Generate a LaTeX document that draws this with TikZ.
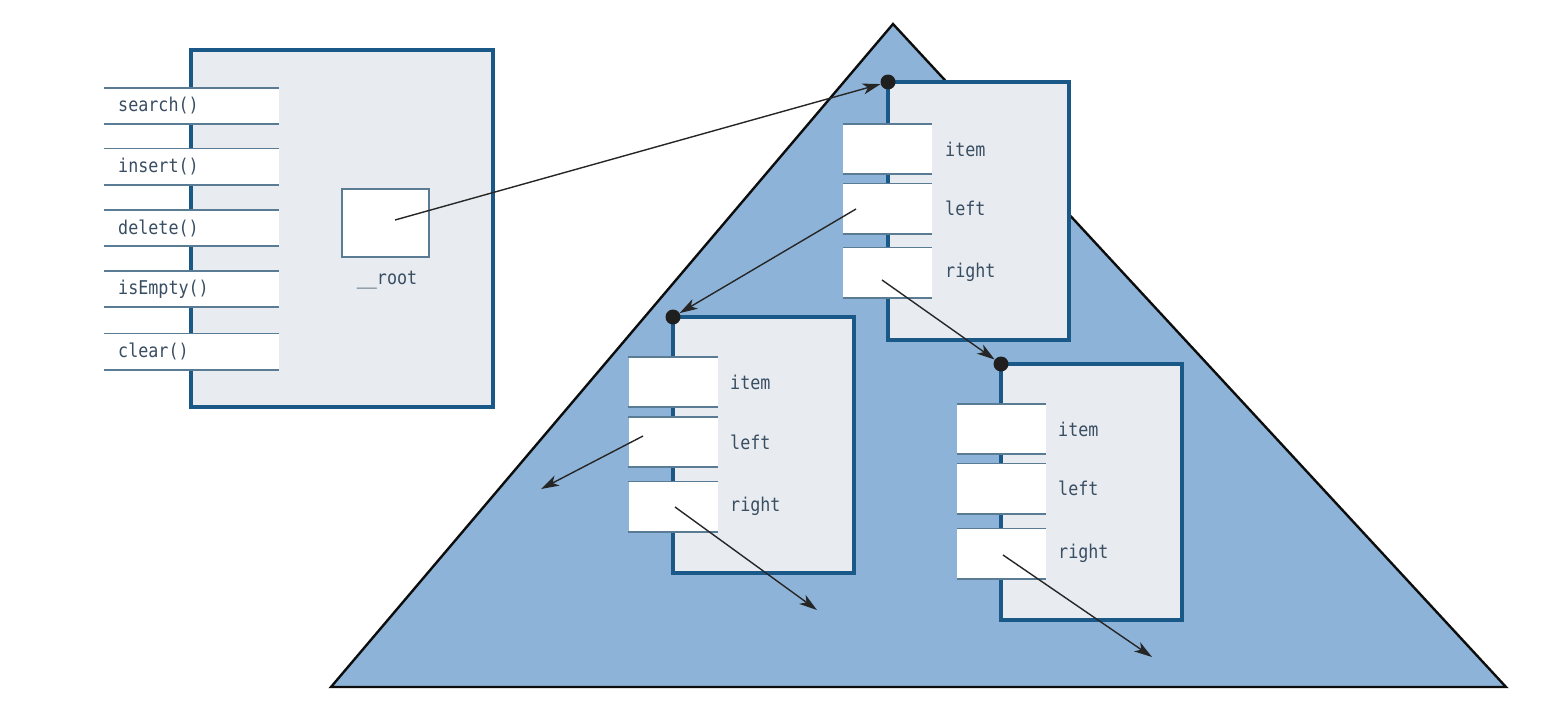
\documentclass[tikz,border=0pt]{standalone}
\usepackage{fontspec}
\setmonofont[FakeStretch=0.88]{DejaVu Sans Mono}
\usetikzlibrary{arrows.meta}
\definecolor{boxedge}{HTML}{1A5987}
\definecolor{boxfill}{HTML}{E8ECF1}
\definecolor{trifill}{HTML}{8DB4D8}
\definecolor{txt}{HTML}{3A4E62}
\definecolor{fline}{HTML}{5A7B94}
\tikzset{
  objbox/.style={draw=boxedge, line width=3.2pt, fill=boxfill, inner sep=0pt},
  fieldbox/.style={fill=white, inner sep=0pt, minimum width=89pt, minimum height=50pt},
  methodbox/.style={fill=white, inner sep=0pt, minimum width=175pt, minimum height=36pt},
  fline/.style={draw=fline, line width=1.6pt},
  lbl/.style={text=txt, font=\ttfamily\fontsize{19}{22}\selectfont, inner sep=0pt, anchor=west},
  rootlbl/.style={text=txt, font=\ttfamily\fontsize{19}{22}\selectfont, inner sep=0pt},
  dot/.style={circle, fill=black!88, inner sep=0pt, minimum size=15pt},
  ptr/.style={draw=black!85, line width=1.4pt, -{Stealth[length=18pt,width=11pt,inset=5pt]}},
  tri/.style={draw=black!95, line width=2.4pt, fill=trifill, line join=miter}
}
\begin{document}
\begin{tikzpicture}[x=1pt,y=-1pt]
\useasboundingbox (0,0) rectangle (1554,709);
\fill[white] (0,0) rectangle (1554,709);
% tree triangle
\draw[tri] (893,24) -- (1506,687) -- (331,687) -- cycle;

% BST object
\node[objbox, minimum width=302pt, minimum height=357pt] (bst) at (342,228.5) {};
\foreach \nm/\yc/\t in {ms/106/search(), mi/166.5/insert(), md/228/delete(), me/289/isEmpty(), mc/351.5/clear()}{
  \node[methodbox] (\nm) at (191.5,\yc) {};
  \draw[fline] (\nm.north west) -- (\nm.north east) (\nm.south west) -- (\nm.south east);
  \node[lbl] (\nm t) at (118,\yc) {\t};
}
\node[draw=fline, line width=1.3pt, fill=white, minimum width=87pt, minimum height=68pt, inner sep=0pt] (root) at (385.5,223) {};
\node[rootlbl] (rootl) at (387,280) {\_\_root};
\coordinate (rootp) at (395,220);

% tree nodes
\node[objbox, minimum width=181pt, minimum height=258pt] (n1) at (978.5,211) {};
\node[objbox, minimum width=181pt, minimum height=256pt] (n2) at (763.5,445) {};
\node[objbox, minimum width=181pt, minimum height=256pt] (n3) at (1091.5,492) {};

\foreach \n/\fx/\lx/\ya/\yb/\yc in {n1/887.5/945/149/208.5/272.5, n2/673/730/382/442/506.5, n3/1001.5/1058/429/488.5/553.5}{
  \node[fieldbox] (\n i) at (\fx,\ya) {};
  \node[fieldbox] (\n l) at (\fx,\yb) {};
  \node[fieldbox] (\n r) at (\fx,\yc) {};
  \foreach \f in {i,l,r}{
    \draw[fline] (\n\f.north west) -- (\n\f.north east) (\n\f.south west) -- (\n\f.south east);
  }
  \node[lbl] (\n it) at (\lx,\ya) {item};
  \node[lbl] (\n lt) at (\lx,\yb) {left};
  \node[lbl] (\n rt) at (\lx,\yc) {right};
}

\node[dot] (n1d) at (888,82) {};
\node[dot] (n2d) at (673,317) {};
\node[dot] (n3d) at (1001,364) {};

% pointer start points and free ends
\coordinate (n1lp) at (856,209);
\coordinate (n1rp) at (882,280);
\coordinate (n2lp) at (643,436);
\coordinate (n2rp) at (675,507);
\coordinate (n3rp) at (1003,555);
\coordinate (e2l) at (541,489);
\coordinate (e2r) at (817,610);
\coordinate (e3r) at (1152,657);

\draw[ptr] (rootp) -- (n1d);
\draw[ptr] (n1lp) -- (n2d);
\draw[ptr] (n1rp) -- (n3d);
\draw[ptr] (n2lp) -- (e2l);
\draw[ptr] (n2rp) -- (e2r);
\draw[ptr] (n3rp) -- (e3r);
\end{tikzpicture}
\end{document}
